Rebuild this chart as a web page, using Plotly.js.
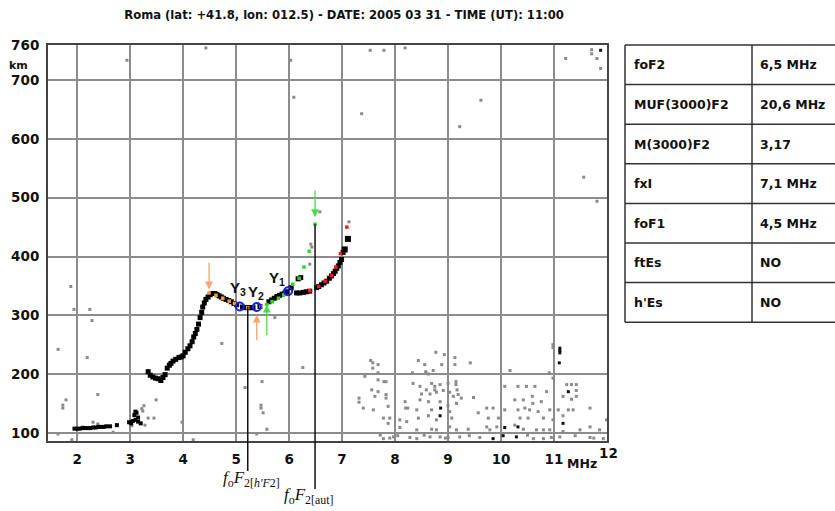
<!DOCTYPE html>
<html>
<head>
<meta charset="utf-8">
<script src="https://cdn.plot.ly/plotly-3.0.1.min.js"></script>
<style>html,body{margin:0;padding:0;background:#fff;}#chart{width:835px;height:511px;}</style>
</head>
<body>
<div id="chart"></div>
<script>
// ---------- data ----------
const titleText = "Roma (lat: +41.8, lon: 012.5) - DATE: 2005 03 31 - TIME (UT): 11:00";
const xTickVals = [2,3,4,5,6,7,8,9,10,11];
const yTickVals = [100,200,300,400,500,600,700,760];

// ordinary-trace echoes (black)
const oTraceX = [3.34,3.38,3.43,3.48,3.53,3.58,3.62,3.66,3.70,3.74,3.77,3.81,3.86,3.92,3.96,4.00,4.04,4.09,4.13,4.17,4.20,4.23,4.26,4.29,4.32,4.35,4.37,4.40,4.43,4.47,4.51,4.55,4.60,4.64,4.68,4.72,4.76,4.81,4.86,4.91,4.96,5.01,5.12,5.17,5.22,5.27,5.32,5.45,5.62,5.67,5.72,5.77,5.82,5.87,5.92,5.96,6.04,6.17,6.22];
const oTraceY = [204,198,195,193,192,189,194,199,210,215,218,222,225,228,229,231,237,243,248,255,263,269,276,285,296,305,314,321,327,331,335,337,337,335,333,331,329,327,325,323,320,318,314,313,313,313,313,315,323,326,329,332,334,336,338,340,347,362,364];
// extraordinary-trace echoes (black)
const xTraceX = [6.14,6.20,6.27,6.33,6.39,6.52,6.56,6.61,6.66,6.71,6.76,6.80,6.84,6.87,6.90,6.93,6.96,6.99,7.02];
const xTraceY = [338,338,339,340,341,347,349,352,355,358,363,367,371,375,380,384,390,395,407];
const bigEchoX = [7.05,7.11];
const bigEchoY = [412,430];
// E layer and low echoes (black)
const eEchoX = [1.95,2.00,2.05,2.10,2.15,2.20,2.25,2.30,2.35,2.40,2.45,2.50,2.55,2.62,2.75,2.98,3.02,3.05,3.10,3.15,3.20,3.08,3.12,3.15,3.10];
const eEchoY = [107,107,107,108,108,108,108,109,109,110,110,110,111,111,113,118,116,120,122,119,116,130,134,126,136];
// noise (grey)
const noiseX = [4.43,2.94,6.03,6.09,6.58,7.53,7.79,8.19,7.37,9.62,9.22,11.22,11.81,11.71,11.71,11.88,11.56,11.81,7.13,6.41,6.43,6.39,
  1.88,1.94,2.24,2.28,1.64,2.19,4.73,2.39,1.79,1.73,1.73,3.49,3.45,3.98,4.19,1.64,1.90,5.17,5.49,6.26,5.73,5.39,5.47,5.47,5.51,5.58,
  2.11,2.30,2.39,2.68,3.22,3.26,3.24,3.34,3.28,3.03,3.00,
  10.98,10.98,8.77,8.93,9.13,7.54,8.44,8.56,8.88,9.13,9.42,7.58,7.58,7.68,8.58,8.72,8.33,8.63,7.68,10.17,10.91,10.98,7.43,7.79,7.83,7.68,
  8.34,8.69,8.85,9.00,9.15,9.15,8.47,8.59,8.75,8.75,8.91,9.17,7.56,7.68,7.83,7.83,8.50,8.66,8.78,9.03,9.10,9.19,9.25,9.48,
  10.07,10.32,10.48,10.64,10.86,11.24,11.33,11.42,11.42,11.42,11.17,11.33,7.32,7.32,7.62,8.19,8.47,8.63,8.85,9.16,9.00,
  10.59,10.60,10.42,10.76,10.26,7.40,7.59,7.87,8.20,8.24,8.41,8.69,9.03,9.57,9.73,9.85,10.07,10.32,10.45,10.54,10.70,10.92,
  11.08,11.27,11.36,11.68,8.63,7.78,7.90,8.09,8.44,8.78,9.07,9.76,9.95,10.36,10.51,10.80,10.98,11.17,7.87,8.22,8.09,8.41,
  8.69,8.78,9.03,9.16,9.38,9.73,9.79,9.92,10.26,10.42,10.67,10.80,10.92,11.17,11.49,11.68,11.86,11.99,
  7.78,7.97,8.41,8.66,8.85,9.00,9.22,10.61,10.80,11.11,11.68,11.93,7.72,7.90,8.05,8.28,8.55,8.95,9.40,9.60,10.50,10.95,11.40,11.75];
const noiseY = [755,734,734,671,476,751,751,755,643,666,621,737,737,745,752,720,535,494,459,421,416,387,
  349,310,310,291,242,228,252,165,156,147,142,156,125,118,88,98,88,177,187,211,296,98,147,142,134,106,
  110,118,115,101,141,146,137,125,113,112,116,
  250,245,237,233,228,223,223,216,216,216,219,219,210,216,204,206,202,200,202,206,202,193,196,187,187,190,
  184,184,182,184,187,182,179,173,179,173,172,173,173,170,165,159,166,166,169,169,162,165,159,160,
  179,179,179,179,170,182,182,182,172,162,162,157,159,152,162,153,156,153,153,150,146,
  162,150,156,153,156,142,139,145,142,142,139,139,136,134,142,142,139,139,142,139,136,139,
  139,139,139,142,129,125,125,122,125,122,125,125,125,125,125,125,122,129,116,119,109,105,
  106,105,110,105,106,110,105,110,113,106,105,105,105,102,105,110,105,122,
  90,93,90,93,93,92,93,90,90,93,92,90,96,91,95,92,96,91,95,92,96,92,95,91];
// noise (black)
const noiseBlackX = [11.11,11.11,11.11,11.10,11.88,11.27,8.86,8.85,11.17,10.07,9.85,10.04,10.29,10.32];
const noiseBlackY = [244,240,236,219,751,170,142,129,116,109,90,95,93,110];
// coloured markers
const greenX = [5.58,5.68,5.80,5.90,6.07,6.19,6.28,6.38,6.49];
const greenY = [318,323,329,335,353,363,382,409,455];
const redX = [6.39,6.56,6.68,6.80,6.88,6.97,7.09];
const redY = [342,349,358,368,382,405,450];
const orangeX = [4.49,4.62,4.75,4.87,4.97,5.22,5.47];
const orangeY = [338,334,329,324,320,313,315];
const yPointX = [5.98,5.39,5.07];
const yPointY = [341,314,315];
const yPointNames = ["Y<sub>1</sub>","Y<sub>2</sub>","Y<sub>3</sub>"];
const yLabelX = [5.77,5.37,5.03];
const yLabelY = [363,339,346];
// arrows: [x, yTail, yHead]
const arrowOrangeX = [4.49,5.39];
const arrowOrangeTail = [392,255];
const arrowOrangeHead = [344,301];
const arrowGreenX = [5.58,6.49];
const arrowGreenTail = [264,515];
const arrowGreenHead = [318,467];
// foF2 markers
const foF2hF2 = 5.22, foF2hF2Top = 315;
const foF2aut = 6.49, foF2autTop = 455;
// parameter table
const paramNames = ["foF2","MUF(3000)F2","M(3000)F2","fxI","foF1","ftEs","h'Es"];
const paramValues = ["6,5 MHz","20,6 MHz","3,17","7,1 MHz","4,5 MHz","NO","NO"];

// ---------- chart ----------
const xRange = [1.45, 12.0];
const yRange = [86, 760];
const W = 835, H = 511, mL = 48, mR = 228, mT = 45, mB = 70;
const pw = W - mL - mR, ph = H - mT - mB;
const px2pxp = p => (p - mL) / pw;          // pixel x -> paper x
const py2pyp = p => (H - mB - p) / ph;      // pixel y -> paper y
const dx2p = x => (x - xRange[0]) / (xRange[1] - xRange[0]);
const dy2p = y => (y - yRange[0]) / (yRange[1] - yRange[0]);

const sq = (x, y, size, color) => ({
  x: x, y: y, type: 'scatter', mode: 'markers', hoverinfo: 'skip', cliponaxis: true,
  marker: {symbol: 'square', size: size, color: color, line: {width: 0}}
});

const traces = [
  sq(noiseX, noiseY, 3, '#8a8a8a'),
  sq(noiseBlackX, noiseBlackY, 3, '#111'),
  sq(eEchoX, eEchoY, 4, '#000'),
  sq(oTraceX, oTraceY, 5, '#000'),
  sq(xTraceX, xTraceY, 5, '#000'),
  sq(bigEchoX, bigEchoY, 6, '#000'),
  sq(greenX, greenY, 3.5, '#22dd22'),
  sq(redX, redY, 3.5, '#ff1a1a'),
  sq(orangeX, orangeY, 3.5, '#ff9a40'),
  {x: yPointX, y: yPointY, type: 'scatter', mode: 'markers', hoverinfo: 'skip',
   marker: {symbol: 'circle-open', size: 8, color: '#1020ff', line: {width: 2, color: '#1020ff'}}}
];

const ann = [];
const C = {xanchor: 'center', yanchor: 'middle', showarrow: false};
// Y labels
for (let i = 0; i < yPointNames.length; i++) {
  ann.push(Object.assign({x: yLabelX[i], y: yLabelY[i], xref: 'x', yref: 'y', text: yPointNames[i],
    font: {family: 'Liberation Sans', size: 15, color: '#111', weight: 'bold'}}, C));
}
// arrows
for (let i = 0; i < arrowOrangeX.length; i++) {
  ann.push({x: arrowOrangeX[i], y: arrowOrangeHead[i], ax: arrowOrangeX[i], ay: arrowOrangeTail[i],
    xref: 'x', yref: 'y', axref: 'x', ayref: 'y', text: '', showarrow: true,
    arrowhead: 2, arrowsize: 1.2, arrowwidth: 1.3, arrowcolor: '#f7a56e'});
}
for (let i = 0; i < arrowGreenX.length; i++) {
  ann.push({x: arrowGreenX[i], y: arrowGreenHead[i], ax: arrowGreenX[i], ay: arrowGreenTail[i],
    xref: 'x', yref: 'y', axref: 'x', ayref: 'y', text: '', showarrow: true,
    arrowhead: 2, arrowsize: 1.2, arrowwidth: 1.3, arrowcolor: '#44e044'});
}
// axis extras
const boldFont = (s) => ({family: 'DejaVu Sans', size: s, color: '#111', weight: 'bold'});
ann.push(Object.assign({xref: 'paper', yref: 'paper', x: px2pxp(18), y: py2pyp(66), text: 'km', font: boldFont(11)}, C));
ann.push(Object.assign({xref: 'paper', yref: 'paper', x: px2pxp(582), y: py2pyp(463), text: 'MHz', font: boldFont(12.5)}, C));
ann.push(Object.assign({xref: 'paper', yref: 'paper', x: px2pxp(608), y: py2pyp(453), text: '12', font: boldFont(13.5)}, C));
// foF2 labels
ann.push(Object.assign({xref: 'paper', yref: 'paper', x: px2pxp(251), y: py2pyp(479),
  text: "<i>f</i><sub>o</sub><i>F</i><sub>2[<i>h'F</i>2]</sub>", font: {family: 'Liberation Serif', size: 17, color: '#111'}}, C));
ann.push(Object.assign({xref: 'paper', yref: 'paper', x: px2pxp(309), y: py2pyp(496),
  text: "<i>f</i><sub>o</sub><i>F</i><sub>2[aut]</sub>", font: {family: 'Liberation Serif', size: 17, color: '#111'}}, C));

// table
const tL = 625, tM = 752, tR = 836, tTop = 45, rowH = 39.6;
const shapes = [];
const tl = (x0, y0, x1, y1) => shapes.push({type: 'line', xref: 'paper', yref: 'paper',
  x0: px2pxp(x0), y0: py2pyp(y0), x1: px2pxp(x1), y1: py2pyp(y1), line: {color: '#333', width: 1.5}});
for (let i = 0; i <= paramNames.length; i++) tl(tL, tTop + i * rowH, tR, tTop + i * rowH);
tl(tL, tTop, tL, tTop + paramNames.length * rowH);
tl(tM, tTop, tM, tTop + paramNames.length * rowH);
for (let i = 0; i < paramNames.length; i++) {
  const cy = py2pyp(tTop + (i + 0.5) * rowH);
  ann.push({xref: 'paper', yref: 'paper', x: px2pxp(632), y: cy, xanchor: 'left', yanchor: 'middle', text: paramNames[i], showarrow: false, font: boldFont(12.5)});
  ann.push({xref: 'paper', yref: 'paper', x: px2pxp(758), y: cy, xanchor: 'left', yanchor: 'middle', text: paramValues[i], showarrow: false, font: boldFont(12.5)});
}
// foF2 vertical marker lines (extend below the axes)
shapes.push({type: 'line', xref: 'paper', yref: 'paper', x0: dx2p(foF2hF2), x1: dx2p(foF2hF2),
  y0: dy2p(foF2hF2Top), y1: py2pyp(471), line: {color: '#111', width: 1.5}});
shapes.push({type: 'line', xref: 'paper', yref: 'paper', x0: dx2p(foF2aut), x1: dx2p(foF2aut),
  y0: dy2p(foF2autTop), y1: py2pyp(489), line: {color: '#111', width: 1.5}});

const layout = {
  width: W, height: H,
  margin: {l: mL, r: mR, t: mT, b: mB, pad: 0},
  paper_bgcolor: '#fff', plot_bgcolor: '#fff',
  showlegend: false,
  title: {text: titleText, x: 344 / W, y: 1 - 15 / H, xanchor: 'center', yanchor: 'middle', xref: 'container', yref: 'container',
    font: {family: 'DejaVu Sans', size: 11.6, color: '#111', weight: 'bold'}},
  xaxis: {range: xRange, tickvals: xTickVals, ticks: '', showgrid: true, gridcolor: '#8c8c8c', gridwidth: 2,
    zeroline: false, showline: true, linecolor: '#444', linewidth: 2, mirror: true, ticklabelstandoff: 5,
    tickfont: boldFont(13.5), fixedrange: true},
  yaxis: {range: yRange, tickvals: yTickVals, ticks: '', showgrid: true, gridcolor: '#8c8c8c', gridwidth: 2,
    zeroline: false, showline: true, linecolor: '#444', linewidth: 2, mirror: true, ticklabelstandoff: 4,
    tickfont: boldFont(13.5), fixedrange: true},
  annotations: ann,
  shapes: shapes
};
Plotly.newPlot('chart', traces, layout, {displayModeBar: false, staticPlot: true});
</script>
</body>
</html>
